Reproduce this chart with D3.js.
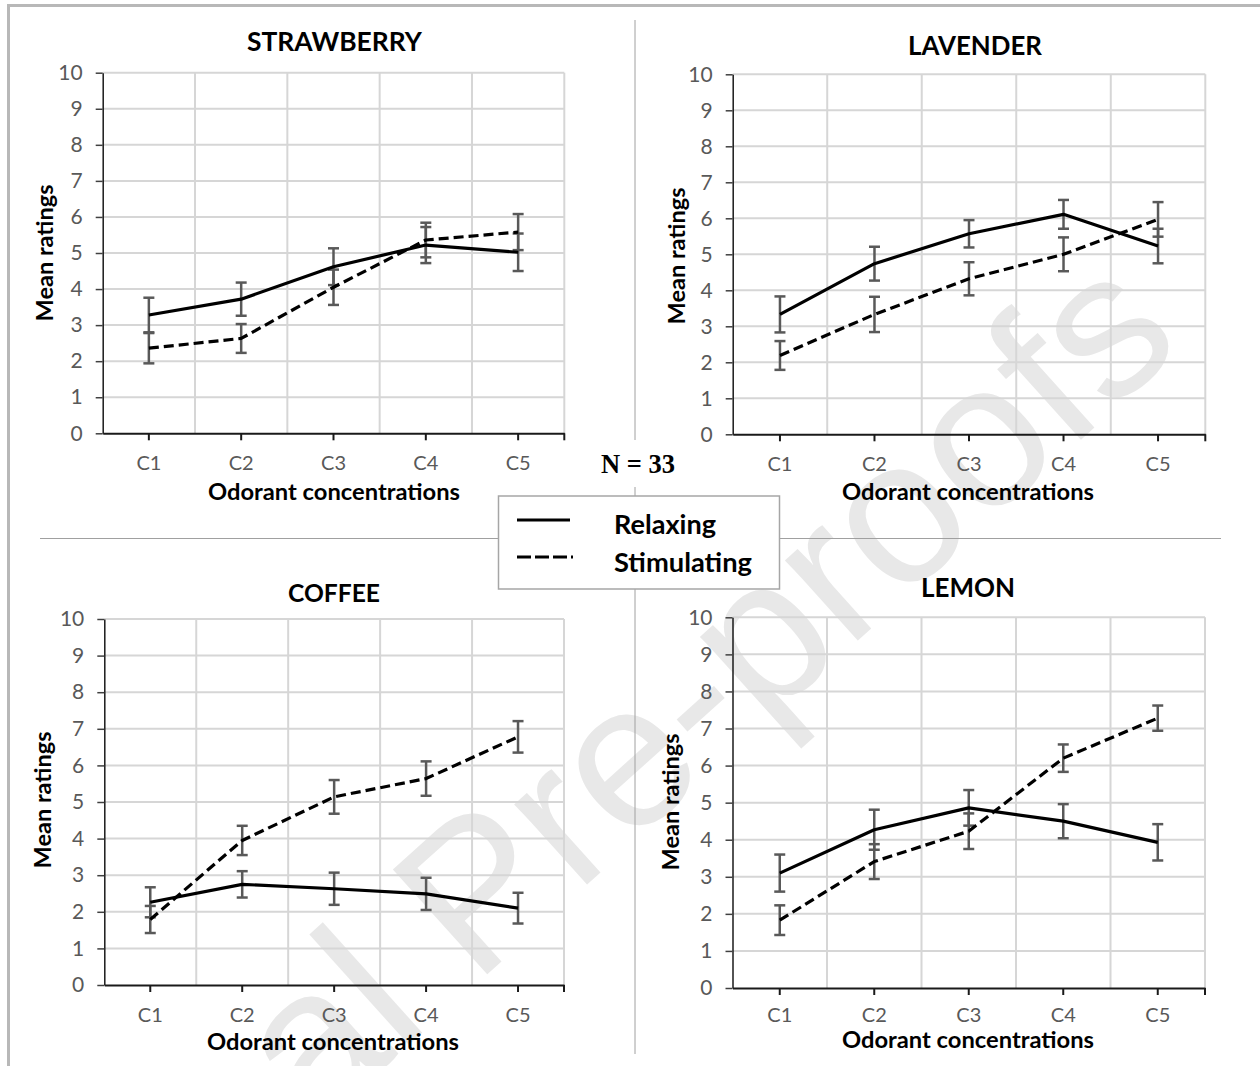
<!DOCTYPE html>
<html>
<head>
<meta charset="utf-8">
<script src="https://cdn.jsdelivr.net/npm/d3@7"></script>
<style>
  html, body { margin: 0; padding: 0; background: #fff; }
  svg { display: block; }
</style>
</head>
<body>
<svg id="chart" width="1260" height="1066"></svg>
<script>
// ---------------- data ----------------
const categories = ["C1", "C2", "C3", "C4", "C5"];
const yTickValues = [0, 1, 2, 3, 4, 5, 6, 7, 8, 9, 10];
const seriesNames = ["Relaxing", "Stimulating"];
const odorants = ["STRAWBERRY", "LAVENDER", "COFFEE", "LEMON"];
const sampleLabel = "N = 33";
const xAxisTitle = "Odorant concentrations";
const yAxisTitle = "Mean ratings";
const watermark = "Journal Pre-proofs";

const strawberryRelaxing      = [3.28, 3.72, 4.62, 5.22, 5.02];
const strawberryRelaxingErr   = [0.48, 0.46, 0.51, 0.50, 0.52];
const strawberryStimulating   = [2.36, 2.63, 4.05, 5.36, 5.58];
const strawberryStimulatingErr= [0.42, 0.40, 0.49, 0.48, 0.50];

const lavenderRelaxing        = [3.33, 4.74, 5.57, 6.11, 5.23];
const lavenderRelaxingErr     = [0.50, 0.47, 0.38, 0.40, 0.48];
const lavenderStimulating     = [2.19, 3.33, 4.32, 5.00, 5.97];
const lavenderStimulatingErr  = [0.40, 0.49, 0.46, 0.47, 0.48];

const coffeeRelaxing          = [2.26, 2.75, 2.63, 2.49, 2.10];
const coffeeRelaxingErr       = [0.41, 0.36, 0.44, 0.44, 0.42];
const coffeeStimulating       = [1.79, 3.95, 5.14, 5.64, 6.78];
const coffeeStimulatingErr    = [0.37, 0.40, 0.46, 0.47, 0.43];

const lemonRelaxing           = [3.10, 4.27, 4.86, 4.50, 3.93];
const lemonRelaxingErr        = [0.50, 0.54, 0.48, 0.46, 0.49];
const lemonStimulating        = [1.83, 3.41, 4.23, 6.20, 7.28];
const lemonStimulatingErr     = [0.40, 0.47, 0.48, 0.37, 0.34];

// ---------------- layout ----------------
const panels = [
  { title: odorants[0], rel: strawberryRelaxing, relErr: strawberryRelaxingErr, sti: strawberryStimulating, stiErr: strawberryStimulatingErr,
    x0: 102.7, x1: 564.3, yTop: 72.7, yBot: 433.3, titleX: 334.5, titleY: 51, titleW: 175,
    yLabX: 36, yLabY: 253, xLabX: 334, xLabY: 500, tickY: 470 },
  { title: odorants[1], rel: lavenderRelaxing, relErr: lavenderRelaxingErr, sti: lavenderStimulating, stiErr: lavenderStimulatingErr,
    x0: 732.7, x1: 1205.3, yTop: 74.3, yBot: 434.3, titleX: 975, titleY: 55, titleW: 134,
    yLabX: 668, yLabY: 256, xLabX: 968, xLabY: 500, tickY: 471 },
  { title: odorants[2], rel: coffeeRelaxing, relErr: coffeeRelaxingErr, sti: coffeeStimulating, stiErr: coffeeStimulatingErr,
    x0: 104.3, x1: 564, yTop: 619, yBot: 985, titleX: 334, titleY: 601.7, titleW: 92,
    yLabX: 34, yLabY: 800, xLabX: 333, xLabY: 1050, tickY: 1021.7 },
  { title: odorants[3], rel: lemonRelaxing, relErr: lemonRelaxingErr, sti: lemonStimulating, stiErr: lemonStimulatingErr,
    x0: 732.5, x1: 1205, yTop: 617.3, yBot: 988, titleX: 968, titleY: 596.7, titleW: 94,
    yLabX: 662, yLabY: 802, xLabX: 968, xLabY: 1048, tickY: 1021.7 }
];

const FONT = "Lato, 'Open Sans', sans-serif";
const svg = d3.select("#chart");

function fit(sel, w) {
  const n = sel.node();
  const fs = parseFloat(sel.attr("font-size"));
  const l = n.getComputedTextLength();
  if (l > 0) sel.attr("font-size", (fs * w / l).toFixed(2));
  return sel;
}

// watermark
svg.append("text")
  .attr("transform", "translate(1186,345) rotate(-42)")
  .attr("text-anchor", "end")
  .attr("font-family", "'Liberation Sans', Arial, sans-serif")
  .attr("font-size", 205)
  .attr("fill", "#e8e8e8")
  .text(watermark);

// frame
svg.append("line").attr("x1", 7).attr("x2", 1260).attr("y1", 5.5).attr("y2", 5.5)
  .attr("stroke", "#b8b8b8").attr("stroke-width", 3);
svg.append("line").attr("x1", 8.5).attr("x2", 8.5).attr("y1", 4).attr("y2", 1066)
  .attr("stroke", "#b8b8b8").attr("stroke-width", 3);

// dividers
svg.append("line").attr("x1", 635).attr("x2", 635).attr("y1", 20).attr("y2", 1054)
  .attr("stroke", "#a0a0a0").attr("stroke-width", 1);
svg.append("line").attr("x1", 40).attr("x2", 1221).attr("y1", 538.5).attr("y2", 538.5)
  .attr("stroke", "#a0a0a0").attr("stroke-width", 1);

panels.forEach(p => {
  const g = svg.append("g");
  const x = d3.scaleBand().domain(categories).range([p.x0, p.x1]).padding(0);
  const y = d3.scaleLinear().domain([0, 10]).range([p.yBot, p.yTop]);
  const cx = c => x(c) + x.bandwidth() / 2;

  // horizontal gridlines
  g.append("g").selectAll("line").data(yTickValues.filter(v => v > 0)).join("line")
    .attr("x1", p.x0).attr("x2", p.x1)
    .attr("y1", d => y(d)).attr("y2", d => y(d))
    .attr("stroke", "#d6d6d6").attr("stroke-width", 2);
  // vertical gridlines at category boundaries
  g.append("g").selectAll("line").data(categories).join("line")
    .attr("x1", d => x(d) + x.bandwidth()).attr("x2", d => x(d) + x.bandwidth())
    .attr("y1", p.yTop).attr("y2", p.yBot)
    .attr("stroke", "#d6d6d6").attr("stroke-width", 2);

  // y axis
  const ya = g.append("g").attr("transform", `translate(${p.x0},0)`)
    .call(d3.axisLeft(y).tickValues(yTickValues).tickSize(7).tickSizeOuter(0).tickPadding(13));
  ya.select(".domain").attr("stroke", "#1a1a1a").attr("stroke-width", 1.5);
  ya.selectAll(".tick line").attr("stroke", "#404040").attr("stroke-width", 1.5);
  ya.selectAll(".tick text").attr("font-family", FONT).attr("font-size", 21).attr("fill", "#595959");

  // x axis
  const xa = g.append("g").attr("transform", `translate(0,${p.yBot})`)
    .call(d3.axisBottom(x).tickSize(7).tickSizeOuter(0).tickPadding(16));
  xa.select(".domain").attr("stroke", "#1a1a1a").attr("stroke-width", 2);
  xa.selectAll(".tick line").attr("stroke", "#1a1a1a").attr("stroke-width", 2);
  xa.selectAll(".tick text").attr("font-family", FONT).attr("font-size", 20).attr("fill", "#595959")
    .attr("dy", null).attr("y", p.tickY - p.yBot);
  xa.append("line").attr("x1", p.x1).attr("x2", p.x1).attr("y1", 0).attr("y2", 7)
    .attr("stroke", "#1a1a1a").attr("stroke-width", 2);

  // series
  const series = [
    { vals: p.rel, errs: p.relErr, dash: null },
    { vals: p.sti, errs: p.stiErr, dash: "10,5" }
  ];
  const line = d3.line().x((d, i) => cx(categories[i])).y(d => y(d));

  series.forEach(s => {
    const eg = g.append("g").attr("stroke", "#595959").attr("stroke-width", 2.5);
    s.vals.forEach((v, i) => {
      const xc = cx(categories[i]);
      const lo = y(v - s.errs[i]), hi = y(v + s.errs[i]);
      eg.append("line").attr("x1", xc).attr("x2", xc).attr("y1", lo).attr("y2", hi);
      eg.append("line").attr("x1", xc - 5.5).attr("x2", xc + 5.5).attr("y1", lo).attr("y2", lo);
      eg.append("line").attr("x1", xc - 5.5).attr("x2", xc + 5.5).attr("y1", hi).attr("y2", hi);
    });
  });
  series.forEach(s => {
    g.append("path").datum(s.vals).attr("d", line)
      .attr("fill", "none").attr("stroke", "#000").attr("stroke-width", 3.2)
      .attr("stroke-linejoin", "round")
      .attr("stroke-dasharray", s.dash);
  });

  // titles
  fit(g.append("text").attr("x", p.titleX).attr("y", p.titleY).attr("text-anchor", "middle")
    .attr("font-family", FONT).attr("font-weight", "bold").attr("font-size", 24).attr("fill", "#000")
    .text(p.title), p.titleW);
  fit(g.append("text").attr("x", p.xLabX).attr("y", p.xLabY).attr("text-anchor", "middle")
    .attr("font-family", FONT).attr("font-weight", "bold").attr("font-size", 20).attr("fill", "#000")
    .text(xAxisTitle), 252);
  fit(g.append("text").attr("transform", `translate(${p.yLabX},${p.yLabY}) rotate(-90)`)
    .attr("text-anchor", "middle").attr("dy", "0.72em")
    .attr("font-family", FONT).attr("font-weight", "bold").attr("font-size", 20).attr("fill", "#000")
    .text(yAxisTitle), 137);
});

// N = 33
svg.append("rect").attr("x", 592).attr("y", 440).attr("width", 90).attr("height", 47).attr("fill", "#fff");
fit(svg.append("text").attr("x", 601).attr("y", 473)
  .attr("font-family", "'Liberation Serif', 'Times New Roman', serif").attr("font-weight", "bold")
  .attr("font-size", 24).attr("fill", "#000").text(sampleLabel), 74);

// legend
const lg = svg.append("g");
lg.append("rect").attr("x", 498.5).attr("y", 496).attr("width", 281).attr("height", 93)
  .attr("fill", "#fff").attr("stroke", "#a6a6a6").attr("stroke-width", 1.5);
const legendY = [520, 557];
const legendBase = [534, 572];
const legendW = [102, 138];
const legendDash = [null, "14,4"];
seriesNames.forEach((name, i) => {
  lg.append("line").attr("x1", 517).attr("x2", i === 0 ? 570 : 573)
    .attr("y1", legendY[i]).attr("y2", legendY[i])
    .attr("stroke", "#000").attr("stroke-width", 3).attr("stroke-dasharray", legendDash[i]);
  fit(lg.append("text").attr("x", 614).attr("y", legendBase[i])
    .attr("font-family", FONT).attr("font-weight", "bold").attr("font-size", 22).attr("fill", "#000")
    .text(name), legendW[i]);
});
</script>
</body>
</html>
